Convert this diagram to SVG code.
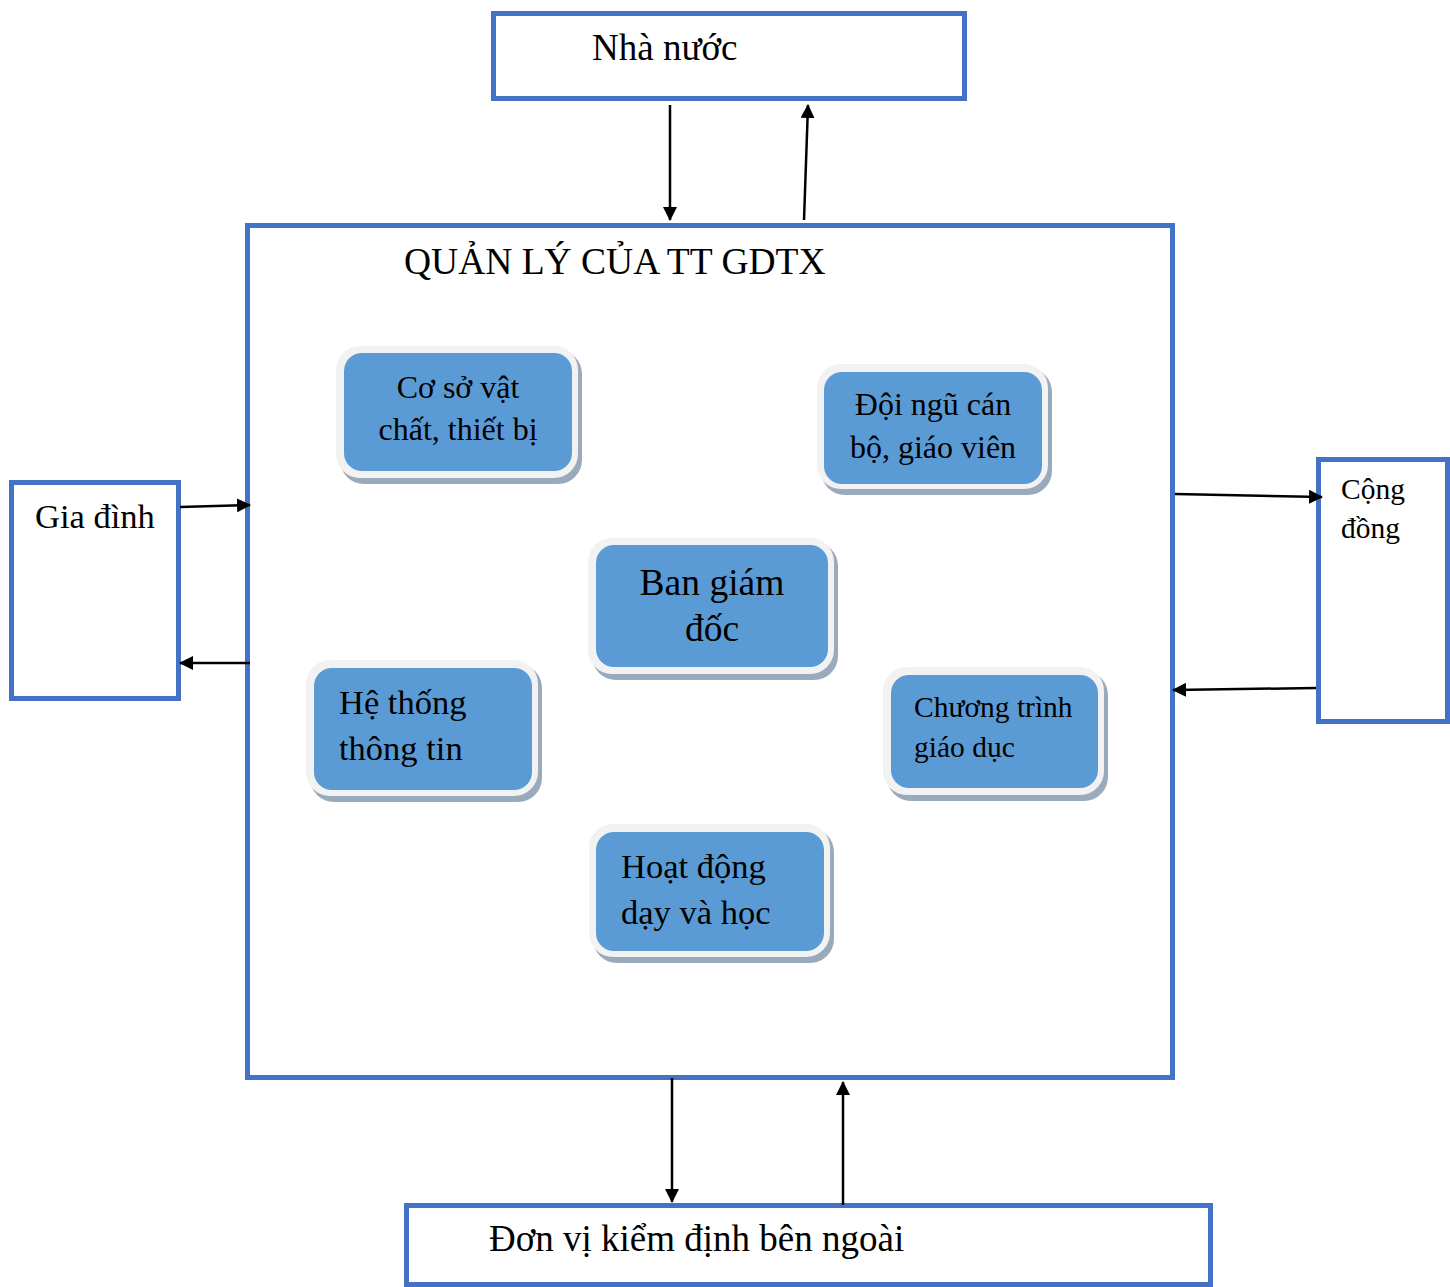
<svg xmlns="http://www.w3.org/2000/svg" width="1450" height="1287" viewBox="0 0 1450 1287">
<style>
.frame{fill:#fff;stroke:#4472c4;stroke-width:5}
.t{font-family:"Liberation Serif","Times New Roman",serif;fill:#000}
.outer{fill:#f2f2f2}
.shadow{fill:#9aaabd}
.inner{fill:#5b9bd5}
.conn{stroke:#000;stroke-width:2.5;fill:none;marker-end:url(#ah)}
</style>
<defs>
<marker id="ah" viewBox="0 0 14 14" refX="13" refY="7" markerWidth="14" markerHeight="14" markerUnits="userSpaceOnUse" orient="auto">
<path d="M0,0 L14,7 L0,14 Z" fill="#000"/>
</marker>
</defs>
<rect width="1450" height="1287" fill="#fff"/>

<g id="main">
<rect class="frame" x="247.5" y="225.5" width="925" height="852"/>
<text class="t" x="404" y="274" font-size="37.5">QUẢN LÝ CỦA TT GDTX</text>
</g>

<g id="nha-nuoc">
<rect class="frame" x="493.5" y="13.5" width="471" height="85"/>
<text class="t" x="592" y="60" font-size="37">Nhà nước</text>
</g>

<g id="gia-dinh">
<rect class="frame" x="11.5" y="482.5" width="167" height="216"/>
<text class="t" x="35" y="528" font-size="34.5">Gia đình</text>
</g>

<g id="cong-dong">
<rect class="frame" x="1318.5" y="459.5" width="129" height="262"/>
<text class="t" x="1341" y="499" font-size="29.5">Cộng</text>
<text class="t" x="1341" y="538" font-size="29.5">đồng</text>
</g>

<g id="don-vi">
<rect class="frame" x="406.5" y="1205.5" width="804" height="79"/>
<text class="t" x="489" y="1251" font-size="37">Đơn vị kiểm định bên ngoài</text>
</g>

<g id="co-so">
<rect class="shadow" x="340" y="350" width="242" height="134" rx="24"/>
<rect class="outer" x="336" y="346" width="242" height="132" rx="24"/>
<rect class="inner" x="344" y="353" width="228" height="118" rx="18"/>
<text class="t" x="458" y="398" font-size="32" text-anchor="middle">Cơ sở vật</text>
<text class="t" x="458" y="440" font-size="32" text-anchor="middle">chất, thiết bị</text>
</g>

<g id="doi-ngu">
<rect class="shadow" x="821" y="368" width="231" height="127" rx="24"/>
<rect class="outer" x="817" y="364" width="231" height="125" rx="24"/>
<rect class="inner" x="824" y="372" width="218" height="112" rx="18"/>
<text class="t" x="933" y="415" font-size="32" text-anchor="middle">Đội ngũ cán</text>
<text class="t" x="933" y="458" font-size="32" text-anchor="middle">bộ, giáo viên</text>
</g>

<g id="ban-giam-doc">
<rect class="shadow" x="592" y="542" width="246" height="138" rx="24"/>
<rect class="outer" x="588" y="538" width="246" height="136" rx="24"/>
<rect class="inner" x="596" y="545" width="232" height="122" rx="18"/>
<text class="t" x="712" y="595" font-size="37.5" text-anchor="middle">Ban giám</text>
<text class="t" x="712" y="641" font-size="37.5" text-anchor="middle">đốc</text>
</g>

<g id="he-thong">
<rect class="shadow" x="310" y="664" width="232" height="138" rx="24"/>
<rect class="outer" x="306" y="660" width="232" height="136" rx="24"/>
<rect class="inner" x="314" y="668" width="218" height="122" rx="18"/>
<text class="t" x="339" y="714" font-size="34.5">Hệ thống</text>
<text class="t" x="339" y="760" font-size="34.5">thông tin</text>
</g>

<g id="chuong-trinh">
<rect class="shadow" x="887" y="671" width="221" height="130" rx="24"/>
<rect class="outer" x="883" y="667" width="221" height="128" rx="24"/>
<rect class="inner" x="891" y="675" width="207" height="113" rx="18"/>
<text class="t" x="914" y="717" font-size="29.5">Chương trình</text>
<text class="t" x="914" y="757" font-size="29.5">giáo dục</text>
</g>

<g id="hoat-dong">
<rect class="shadow" x="593" y="828" width="241" height="135" rx="24"/>
<rect class="outer" x="589" y="824" width="241" height="133" rx="24"/>
<rect class="inner" x="596" y="832" width="228" height="119" rx="18"/>
<text class="t" x="621" y="878" font-size="34.5">Hoạt động</text>
<text class="t" x="621" y="924" font-size="34.5">dạy và học</text>
</g>

<g id="connectors">
<line class="conn" x1="670" y1="105" x2="670" y2="220"/>
<line class="conn" x1="804" y1="220" x2="808" y2="105"/>
<line class="conn" x1="180" y1="507" x2="250" y2="505"/>
<line class="conn" x1="250" y1="663" x2="180" y2="663"/>
<line class="conn" x1="1175" y1="494" x2="1322" y2="497"/>
<line class="conn" x1="1316" y1="688" x2="1173" y2="690"/>
<line class="conn" x1="672" y1="1078" x2="672" y2="1202"/>
<line class="conn" x1="843" y1="1205" x2="843" y2="1082"/>
</g>
</svg>
